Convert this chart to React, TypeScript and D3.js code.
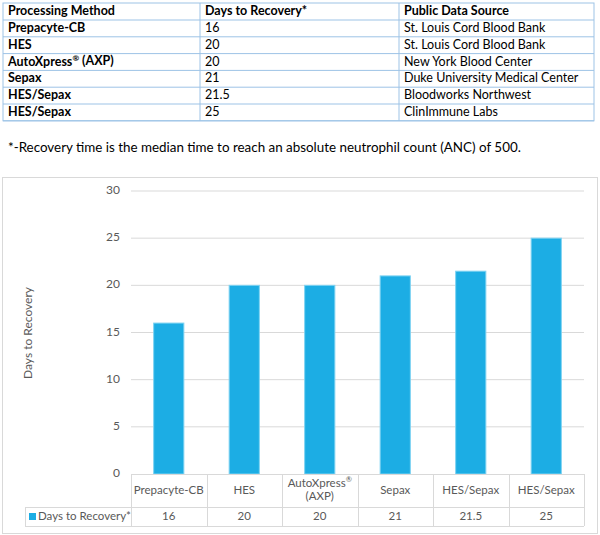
import * as d3 from "d3";

const methods = ["Prepacyte-CB", "HES", "AutoXpress® (AXP)", "Sepax", "HES/Sepax", "HES/Sepax"];
const days = [16, 20, 20, 21, 21.5, 25];
const dayLabels = ["16", "20", "20", "21", "21.5", "25"];
const sources = [
  "St. Louis Cord Blood Bank",
  "St. Louis Cord Blood Bank",
  "New York Blood Center",
  "Duke University Medical Center",
  "Bloodworks Northwest",
  "ClinImmune Labs",
];
const categoryLines = [["Prepacyte-CB"], ["HES"], ["AutoXpress®", "(AXP)"], ["Sepax"], ["HES/Sepax"], ["HES/Sepax"]];
const yTicks = [0, 5, 10, 15, 20, 25, 30];
const headers = ["Processing Method", "Days to Recovery*", "Public Data Source"];
const seriesName = "Days to Recovery*";
const footnote = "*-Recovery time is the median time to reach an absolute neutrophil count (ANC) of 500.";

const FONT = "Lato, 'Open Sans', sans-serif";
const TABLE_LINE = "#9DC3E6";
const GRID = "#D9D9D9";
const TEXT_GREY = "#595959";
const BAR = "#1CADE4";

// render "®" as a small raised mark, like the word processor does
function withSup(s: string) {
  const parts = s.split("®");
  const out: any[] = [];
  parts.forEach((p, i) => {
    if (p) out.push(<tspan key={"t" + i} dy={i > 0 ? "0.29em" : undefined}>{p}</tspan>);
    if (i < parts.length - 1)
      out.push(
        <tspan key={"s" + i} fontSize="0.65em" dy="-0.45em">
          ®
        </tspan>
      );
  });
  return out;
}

export default function App() {
  // top table
  const colX = [3, 200, 399, 594];
  const tableTop = 3;
  const headerBottom = 20;
  const rowH = 16.8;

  // chart
  const plot = { left: 131, right: 584, top: 191, bottom: 474 };
  const x = d3.scaleBand<number>().domain(d3.range(methods.length)).range([plot.left, plot.right]);
  const y = d3.scaleLinear().domain([0, 30]).range([plot.bottom, plot.top]);
  const barW = x.bandwidth() * 0.4;
  const row1Bottom = 507;
  const row2Bottom = 526;
  const legendLeft = 25;

  return (
    <svg width={600} height={535} style={{ position: "absolute", left: 0, top: 0 }} fontFamily={FONT}>
      <rect width={600} height={535} fill="#fff" />

      {/* data table */}
      <g>
        <rect x={colX[0]} y={tableTop} width={colX[3] - colX[0]} height={headerBottom + rowH * 6 - tableTop} fill="none" stroke={TABLE_LINE} />
        {d3.range(7).map((i) => (
          <line key={i} x1={colX[0]} x2={colX[3]} y1={headerBottom + i * rowH} y2={headerBottom + i * rowH} stroke={TABLE_LINE} />
        ))}
        {[colX[1], colX[2]].map((cx, i) => (
          <line key={i} x1={cx} x2={cx} y1={tableTop} y2={headerBottom + rowH * 6} stroke={TABLE_LINE} />
        ))}
        {headers.map((h, i) => (
          <text key={i} x={colX[i] + 5} y={12} dominantBaseline="middle" fontSize={12.5} fontWeight="bold" fill="#000">
            {h}
          </text>
        ))}
        {methods.map((m, i) => {
          const cy = headerBottom + rowH * i + rowH / 2 + 0.5;
          return (
            <g key={i}>
              <text x={colX[0] + 5} y={cy} dominantBaseline="middle" fontSize={12.5} fontWeight="bold" fill="#000">
                {withSup(m)}
              </text>
              <text x={colX[1] + 5} y={cy} dominantBaseline="middle" fontSize={12.5} fill="#000">
                {dayLabels[i]}
              </text>
              <text x={colX[2] + 5} y={cy} dominantBaseline="middle" fontSize={12.5} fill="#000">
                {sources[i]}
              </text>
            </g>
          );
        })}
      </g>

      <text x={8} y={149} dominantBaseline="middle" fontSize={13.4} fill="#000">
        {footnote}
      </text>

      {/* chart frame */}
      <rect x={2.5} y={177.5} width={595} height={356} fill="none" stroke="#D9D9D9" />

      {yTicks.map((t) => (
        <g key={t}>
          {t > 0 && <line x1={plot.left} x2={plot.right} y1={y(t)} y2={y(t)} stroke={GRID} />}
          <text x={120} y={y(t)} textAnchor="end" dominantBaseline="middle" fontSize={12} fill={TEXT_GREY}>
            {t}
          </text>
        </g>
      ))}

      <text
        transform={`translate(29,333) rotate(-90)`}
        textAnchor="middle"
        dominantBaseline="middle"
        fontSize={12}
        fill={TEXT_GREY}
      >
        Days to Recovery
      </text>

      {days.map((d, i) => (
        <rect
          key={i}
          x={(x(i) ?? 0) + (x.bandwidth() - barW) / 2}
          y={y(d)}
          width={barW}
          height={y(0) - y(d)}
          fill={BAR}
          stroke="#7FD3F2"
          strokeWidth={1}
        />
      ))}

      {/* data table under the chart */}
      <g stroke={GRID} fill="none">
        <line x1={plot.left} x2={plot.right} y1={plot.bottom + 0.5} y2={plot.bottom + 0.5} />
        <line x1={legendLeft} x2={plot.right} y1={row1Bottom + 0.5} y2={row1Bottom + 0.5} />
        <line x1={legendLeft} x2={plot.right} y1={row2Bottom + 0.5} y2={row2Bottom + 0.5} />
        <line x1={legendLeft + 0.5} x2={legendLeft + 0.5} y1={row1Bottom} y2={row2Bottom} />
        {d3.range(methods.length + 1).map((i) => {
          const lx = Math.round(i < methods.length ? x(i) ?? 0 : plot.right) + 0.5;
          return <line key={i} x1={lx} x2={lx} y1={plot.bottom} y2={row2Bottom} />;
        })}
      </g>

      {categoryLines.map((lines, i) => {
        const cx = (x(i) ?? 0) + x.bandwidth() / 2;
        const mid = (plot.bottom + row1Bottom) / 2;
        return (
          <g key={i}>
            {lines.map((l, j) => (
              <text
                key={j}
                x={cx}
                y={mid + (j - (lines.length - 1) / 2) * 13.5}
                textAnchor="middle"
                dominantBaseline="middle"
                fontSize={11.5}
                fill={TEXT_GREY}
              >
                {withSup(l)}
              </text>
            ))}
          </g>
        );
      })}

      {dayLabels.map((l, i) => (
        <text
          key={i}
          x={(x(i) ?? 0) + x.bandwidth() / 2}
          y={(row1Bottom + row2Bottom) / 2 + 1}
          textAnchor="middle"
          dominantBaseline="middle"
          fontSize={11.5}
          fill={TEXT_GREY}
        >
          {l}
        </text>
      ))}

      <rect x={29} y={513} width={7} height={7} fill={BAR} />
      <text x={38} y={(row1Bottom + row2Bottom) / 2 + 1} dominantBaseline="middle" fontSize={11.5} fill={TEXT_GREY}>
        {seriesName}
      </text>
    </svg>
  );
}
